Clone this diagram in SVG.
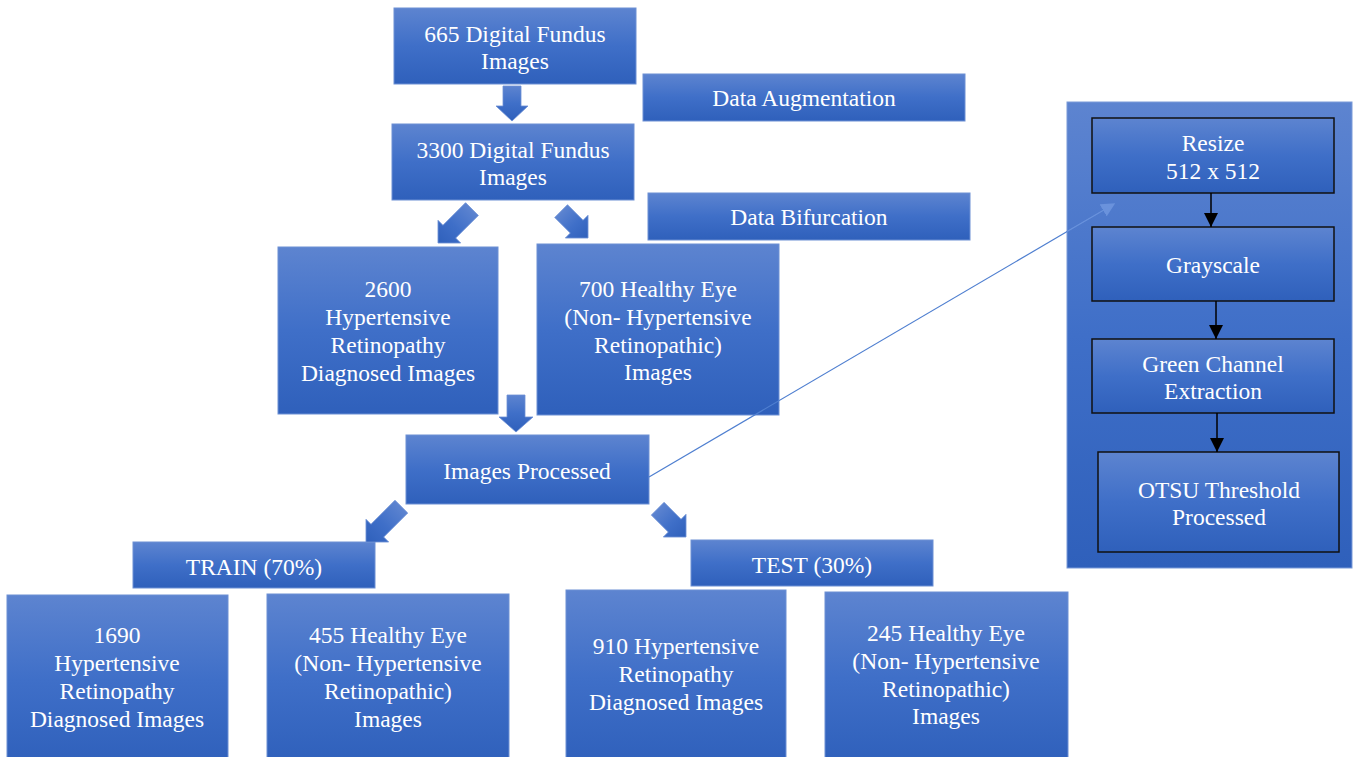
<svg xmlns="http://www.w3.org/2000/svg" width="1355" height="757" viewBox="0 0 1355 757">
  <defs>
    <linearGradient id="fill" x1="0" y1="0" x2="0" y2="1">
      <stop offset="0" stop-color="#5d84d0"/>
      <stop offset="0.5" stop-color="#3f6fc8"/>
      <stop offset="1" stop-color="#2f60bb"/>
    </linearGradient>
    <marker id="thin" viewBox="0 0 10 10" refX="9" refY="5" markerWidth="14" markerHeight="14" markerUnits="userSpaceOnUse" orient="auto">
      <path d="M0,0 L10,5 L0,10 z" fill="#6a92dc"/>
    </marker>
    <marker id="solid" viewBox="0 0 10 10" refX="10" refY="5" markerWidth="14" markerHeight="14" markerUnits="userSpaceOnUse" orient="auto">
      <path d="M0,0 L10,5 L0,10 z" fill="#000"/>
    </marker>
  </defs>
  <style>
    .box { fill: url(#fill); stroke: #6d90d4; stroke-width: 1; }
    .step { fill: url(#fill); stroke: #111; stroke-width: 1.5; }
    .panel { fill: url(#fill); stroke: #7a9ad8; stroke-width: 1; }
    .t { font-family: "Liberation Serif", "Times New Roman", serif; font-size: 23.5px; fill: #fff; text-anchor: middle; }
    .blk { fill: url(#fill); stroke: #6d90d4; stroke-width: 0.8; }
    .ln { stroke: #4f7fd0; stroke-width: 1.2; fill: none; }
    .bl { stroke: #000; stroke-width: 1.5; fill: none; }
  </style>

  <!-- side panel with preprocessing steps -->
  <g id="panel">
    <rect class="panel" x="1067" y="102" width="285" height="466"/>
  </g>

  <g id="n665">
    <rect class="box" x="394" y="8" width="242" height="76"/>
    <text class="t" x="515" y="42">665 Digital Fundus</text>
    <text class="t" x="515" y="69">Images</text>
  </g>
  <g id="augment">
    <rect class="box" x="643" y="74" width="322" height="47"/>
    <text class="t" x="804" y="106">Data Augmentation</text>
  </g>
  <g id="n3300">
    <rect class="box" x="392" y="124" width="242" height="76"/>
    <text class="t" x="513" y="158">3300 Digital Fundus</text>
    <text class="t" x="513" y="185">Images</text>
  </g>
  <g id="bifurcation">
    <rect class="box" x="648" y="193" width="322" height="47"/>
    <text class="t" x="809" y="225">Data Bifurcation</text>
  </g>
  <g id="n2600">
    <rect class="box" x="278" y="247" width="220" height="167"/>
    <text class="t" x="388" y="297">2600</text>
    <text class="t" x="388" y="325">Hypertensive</text>
    <text class="t" x="388" y="353">Retinopathy</text>
    <text class="t" x="388" y="381">Diagnosed Images</text>
  </g>
  <g id="n700">
    <rect class="box" x="537" y="244" width="242" height="171"/>
    <text class="t" x="658" y="297">700 Healthy Eye</text>
    <text class="t" x="658" y="325">(Non- Hypertensive</text>
    <text class="t" x="658" y="353">Retinopathic)</text>
    <text class="t" x="658" y="380">Images</text>
  </g>
  <g id="processed">
    <rect class="box" x="406" y="435" width="243" height="69"/>
    <text class="t" x="527" y="479">Images Processed</text>
  </g>
  <g id="train">
    <rect class="box" x="133" y="542" width="242" height="46"/>
    <text class="t" x="254" y="575">TRAIN (70%)</text>
  </g>
  <g id="test">
    <rect class="box" x="691" y="540" width="242" height="46"/>
    <text class="t" x="812" y="573">TEST (30%)</text>
  </g>
  <g id="n1690">
    <rect class="box" x="7" y="595" width="221" height="170"/>
    <text class="t" x="117" y="643">1690</text>
    <text class="t" x="117" y="671">Hypertensive</text>
    <text class="t" x="117" y="699">Retinopathy</text>
    <text class="t" x="117" y="727">Diagnosed Images</text>
  </g>
  <g id="n455">
    <rect class="box" x="267" y="594" width="242" height="170"/>
    <text class="t" x="388" y="643">455 Healthy Eye</text>
    <text class="t" x="388" y="671">(Non- Hypertensive</text>
    <text class="t" x="388" y="699">Retinopathic)</text>
    <text class="t" x="388" y="727">Images</text>
  </g>
  <g id="n910">
    <rect class="box" x="566" y="590" width="220" height="175"/>
    <text class="t" x="676" y="654">910 Hypertensive</text>
    <text class="t" x="676" y="682">Retinopathy</text>
    <text class="t" x="676" y="710">Diagnosed Images</text>
  </g>
  <g id="n245">
    <rect class="box" x="825" y="592" width="243" height="172"/>
    <text class="t" x="946" y="641">245 Healthy Eye</text>
    <text class="t" x="946" y="669">(Non- Hypertensive</text>
    <text class="t" x="946" y="697">Retinopathic)</text>
    <text class="t" x="946" y="724">Images</text>
  </g>

  <g id="resize">
    <rect class="step" x="1092" y="118" width="242" height="75"/>
    <text class="t" x="1213" y="151">Resize</text>
    <text class="t" x="1213" y="179">512 x 512</text>
  </g>
  <g id="grayscale">
    <rect class="step" x="1092" y="227" width="242" height="74"/>
    <text class="t" x="1213" y="273">Grayscale</text>
  </g>
  <g id="green">
    <rect class="step" x="1092" y="339" width="242" height="74"/>
    <text class="t" x="1213" y="372">Green Channel</text>
    <text class="t" x="1213" y="399">Extraction</text>
  </g>
  <g id="otsu">
    <rect class="step" x="1098" y="452" width="241" height="100"/>
    <text class="t" x="1219" y="498">OTSU Threshold</text>
    <text class="t" x="1219" y="525">Processed</text>
  </g>

  <g id="connectors">
    <!-- block arrows: tip at origin, pointing down before rotation -->
    <polygon class="blk" transform="translate(512,121)" points="-9,-35 9,-35 9,-15 16,-15 0,0 -16,-15 -9,-15"/>
    <polygon class="blk" transform="translate(438,243) rotate(45)" points="-9,-48 9,-48 9,-16 16,-16 0,0 -16,-16 -9,-16"/>
    <polygon class="blk" transform="translate(588,238) rotate(-45)" points="-9,-38 9,-38 9,-16 16,-16 0,0 -16,-16 -9,-16"/>
    <polygon class="blk" transform="translate(516,432) rotate(0)" points="-9,-37 9,-37 9,-15 17,-15 0,0 -17,-15 -9,-15"/>
    <polygon class="blk" transform="translate(366,542) rotate(45)" points="-9,-50 9,-50 9,-16 16,-16 0,0 -16,-16 -9,-16"/>
    <polygon class="blk" transform="translate(686,537) rotate(-45)" points="-9,-40 9,-40 9,-16 16,-16 0,0 -16,-16 -9,-16"/>

    <!-- link from processed images to the preprocessing panel -->
    <line class="ln" x1="649" y1="477" x2="1114" y2="204" marker-end="url(#thin)"/>
    <line stroke="#6a92dc" stroke-width="1.2" x1="1067" y1="231.6" x2="1106" y2="208.7"/>

    <!-- preprocessing steps -->
    <line class="bl" x1="1211" y1="193" x2="1211" y2="227" marker-end="url(#solid)"/>
    <line class="bl" x1="1216" y1="301" x2="1216" y2="339" marker-end="url(#solid)"/>
    <line class="bl" x1="1217" y1="413" x2="1217" y2="452" marker-end="url(#solid)"/>
  </g>
</svg>
